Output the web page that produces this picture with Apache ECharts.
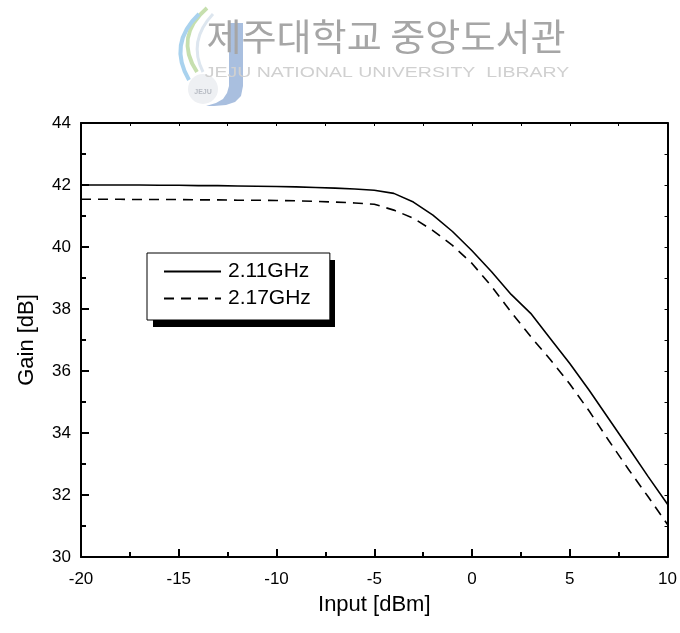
<!DOCTYPE html>
<html>
<head>
<meta charset="utf-8">
<script src="https://cdn.jsdelivr.net/npm/echarts@6/dist/echarts.min.js"></script>
<style>
  html, body { margin: 0; padding: 0; background: #fff; }
  #chart { width: 680px; height: 633px; }
</style>
</head>
<body>
<div id="chart"></div>
<script>
// Input drive level (dBm)
const inputDbm = [-20, -19, -18, -17, -16, -15, -14, -13, -12, -11, -10,
                  -9, -8, -7, -6, -5, -4, -3, -2, -1,
                  0, 1, 2, 3, 4, 5, 6, 7, 8, 9, 10];

// Measured gain (dB) at 2.11 GHz
const gain211 = [42.00, 42.00, 42.00, 42.00, 41.99, 41.99, 41.98, 41.98, 41.97, 41.96, 41.95,
                 41.94, 41.92, 41.90, 41.87, 41.83, 41.73, 41.45, 41.03, 40.50,
                 39.88, 39.20, 38.47, 37.86, 37.05, 36.24, 35.37, 34.45, 33.53, 32.60, 31.70];

// Measured gain (dB) at 2.17 GHz
const gain217 = [41.54, 41.54, 41.54, 41.53, 41.53, 41.53, 41.52, 41.52, 41.51, 41.51, 41.50,
                 41.49, 41.47, 41.45, 41.42, 41.38, 41.19, 40.93, 40.53, 40.05,
                 39.47, 38.73, 37.90, 37.11, 36.37, 35.58, 34.70, 33.75, 32.83, 31.95, 31.05];

const seriesNames = ['2.11GHz', '2.17GHz'];
const xTicks = [-20, -15, -10, -5, 0, 5, 10];
const yTicks = [30, 32, 34, 36, 38, 40, 42, 44];

const FONT = 'Arial, "Liberation Sans", sans-serif';

const pairs = (xs, ys) => xs.map((x, i) => [x, ys[i]]);

const chart = echarts.init(document.getElementById('chart'), null, { renderer: 'canvas' });

const mainAxisLine = { show: true, onZero: false, lineStyle: { color: '#000', width: 2 } };
const mirrorAxis = {
  axisLine: mainAxisLine,
  axisTick: { show: true, inside: true, length: 3, lineStyle: { color: '#000', width: 1 } },
  axisLabel: { show: false },
  splitLine: { show: false }
};

// legend frame geometry (box drawn by the legend, hard shadow drawn behind it)
const LEGEND_LEFT = 147, LEGEND_TOP = 253, LEGEND_W = 182, LEGEND_H = 67;

chart.setOption({
  animation: false,
  backgroundColor: '#fff',
  grid: { left: 81, top: 123, width: 588, height: 434, containLabel: false },
  legend: {
    orient: 'vertical',
    left: LEGEND_LEFT,
    top: LEGEND_TOP,
    padding: [8, 19, 11, 16],
    itemGap: 6,
    itemWidth: 57,
    itemHeight: 21,
    z: 5,
    backgroundColor: '#fff',
    borderColor: '#000',
    borderWidth: 1,
    itemStyle: { opacity: 0 },
    textStyle: { fontFamily: FONT, fontSize: 21, color: '#000', padding: [0, 0, 0, 2] },
    data: seriesNames
  },
  xAxis: [
    {
      type: 'value',
      position: 'bottom',
      min: xTicks[0],
      max: xTicks[xTicks.length - 1],
      interval: 5,
      name: 'Input [dBm]',
      nameLocation: 'middle',
      nameGap: 37,
      nameTextStyle: { fontFamily: FONT, fontSize: 22, color: '#000' },
      axisLine: mainAxisLine,
      axisTick: { show: true, inside: true, length: 8, lineStyle: { color: '#000', width: 2 } },
      minorTick: { show: true, splitNumber: 2, length: 5, lineStyle: { color: '#000', width: 2 } },
      axisLabel: { fontFamily: FONT, fontSize: 17, color: '#000', margin: 14 },
      splitLine: { show: false }
    },
    Object.assign({
      type: 'value',
      position: 'top',
      min: xTicks[0],
      max: xTicks[xTicks.length - 1],
      interval: 2.5
    }, mirrorAxis)
  ],
  yAxis: [
    {
      type: 'value',
      position: 'left',
      min: yTicks[0],
      max: yTicks[yTicks.length - 1],
      interval: 2,
      name: 'Gain [dB]',
      nameLocation: 'middle',
      nameGap: 43,
      nameTextStyle: { fontFamily: FONT, fontSize: 22, color: '#000' },
      axisLine: mainAxisLine,
      axisTick: { show: true, inside: true, length: 8, lineStyle: { color: '#000', width: 2 } },
      minorTick: { show: true, splitNumber: 2, length: 5, lineStyle: { color: '#000', width: 2 } },
      axisLabel: { fontFamily: FONT, fontSize: 17, color: '#000', margin: 10 },
      splitLine: { show: false }
    },
    Object.assign({
      type: 'value',
      position: 'right',
      min: yTicks[0],
      max: yTicks[yTicks.length - 1],
      interval: 1
    }, mirrorAxis)
  ],
  series: [
    {
      name: seriesNames[0],
      type: 'line',
      xAxisIndex: 0,
      yAxisIndex: 0,
      data: pairs(inputDbm, gain211),
      symbol: 'none',
      smooth: false,
      lineStyle: { color: '#000', width: 1.6, type: 'solid' },
      itemStyle: { color: '#000' }
    },
    {
      name: seriesNames[1],
      type: 'line',
      xAxisIndex: 0,
      yAxisIndex: 0,
      data: pairs(inputDbm, gain217),
      symbol: 'none',
      smooth: false,
      lineStyle: { color: '#000', width: 1.6, type: [10, 7] },
      itemStyle: { color: '#000' }
    }
  ],
  graphic: [
    // hard drop shadow of the legend frame
    {
      type: 'rect',
      silent: true,
      z: 4,
      shape: { x: LEGEND_LEFT + 6, y: LEGEND_TOP + 7, width: LEGEND_W, height: LEGEND_H },
      style: { fill: '#000' }
    },
    // library watermark banner above the plot
    {
      type: 'group',
      silent: true,
      z: -10,
      children: [
        { type: 'bezierCurve', shape: { x1: 207, y1: 8, cpx1: 186, cpy1: 26, cpx2: 181, cpy2: 48, x2: 197, y2: 72 },
          style: { fill: null, stroke: '#c6dfae', lineWidth: 4 } },
        { type: 'bezierCurve', shape: { x1: 199, y1: 14, cpx1: 178, cpy1: 34, cpx2: 175, cpy2: 56, x2: 189, y2: 80 },
          style: { fill: null, stroke: '#a9d2ee', lineWidth: 4 } },
        { type: 'bezierCurve', shape: { x1: 213, y1: 14, cpx1: 196, cpy1: 32, cpx2: 193, cpy2: 52, x2: 203, y2: 72 },
          style: { fill: null, stroke: '#dde6ef', lineWidth: 3 } },
        { type: 'polygon', shape: { points: [[229, 23], [243, 23], [243, 86], [241, 96], [235, 102], [226, 105], [214, 106], [206, 106], [216, 103], [223, 99], [227, 93], [229, 86]] },
          style: { fill: '#a9bfdf' } },
        { type: 'circle', shape: { cx: 203, cy: 89, r: 15 }, style: { fill: '#eef0f3' } },
        { type: 'text', style: { text: 'JEJU', x: 203, y: 92, align: 'center', verticalAlign: 'middle',
            font: 'bold 7px ' + FONT, fill: '#b8bcc4' } },
        { type: 'text', x: 386, y: 37, scaleX: 1.03,
          style: { text: '제주대학교 중앙도서관', x: 0, y: 0, align: 'center', verticalAlign: 'middle',
            font: '37px "Noto Sans CJK KR"', fill: '#a6a6a6' } },
        { type: 'text', x: 387, y: 73, scaleX: 1.3,
          style: { text: 'JEJU NATIONAL UNIVERSITY  LIBRARY', x: 0, y: 0, align: 'center', verticalAlign: 'middle',
            font: '15px ' + FONT, fill: '#d0d0d0' } }
      ]
    }
  ]
});
</script>
</body>
</html>
